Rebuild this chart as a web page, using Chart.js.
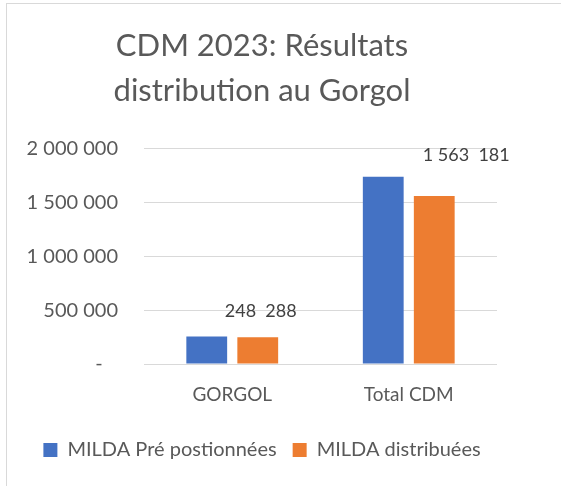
<!DOCTYPE html>
<html>
<head>
<meta charset="utf-8">
<script src="https://cdn.jsdelivr.net/npm/chart.js@4"></script>
<style>
    body { margin: 0; background: #fff; }
    #frame { position: absolute; left: 6px; top: 3px; width: 600px; height: 520px; border-left: 1px solid #d9d9d9; border-top: 1px solid #d9d9d9; }
    #box { position: absolute; left: 7px; top: 4px; width: 554px; height: 482px; }
</style>
</head>
<body>
<div id="frame"></div>
<div id="box"><canvas id="chart"></canvas></div>
<script>
// Données du graphique
const categories = ["GORGOL", "Total CDM"];
const milaPrePositionnees = [255000, 1740000];
const milaDistribuees = [248288, 1563181];
const yTicks = [0, 500000, 1000000, 1500000, 2000000];

const gris = "#595959";
const police = "Lato, 'Liberation Sans', sans-serif";

// formatage type Excel : 1 563 181
function formatNombre(v) {
    if (v === 0) return "-";
    return Math.round(v).toString().replace(/\B(?=(\d{3})+(?!\d))/g, " ");
}

// étiquettes de données sur la série orange
const etiquettes = {
    id: "etiquettes",
    afterDatasetsDraw(chart) {
        const ctx = chart.ctx;
        const meta = chart.getDatasetMeta(1);
        const decalages = [{ dx: 3, dy: -26 }, { dx: 32, dy: -41 }];
        ctx.save();
        ctx.font = "18px " + police;
        ctx.fillStyle = "#404040";
        ctx.textAlign = "center";
        ctx.textBaseline = "middle";
        meta.data.forEach(function (bar, i) {
            let txt = formatNombre(milaDistribuees[i]).replace(/ (\d{3})$/, "  $1");
            ctx.fillText(txt, bar.x + decalages[i].dx, bar.y + decalages[i].dy);
        });
        ctx.restore();
    }
};

new Chart(document.getElementById("chart"), {
    type: "bar",
    data: {
        labels: categories,
        datasets: [
            { label: "MILDA Pré postionnées", data: milaPrePositionnees, backgroundColor: "#4472C4" },
            { label: "MILDA distribuées", data: milaDistribuees, backgroundColor: "#ED7D31" }
        ]
    },
    options: {
        responsive: true,
        maintainAspectRatio: false,
        devicePixelRatio: 1,
        animation: false,
        categoryPercentage: 0.578,
        barPercentage: 0.8,
        layout: { padding: { left: 20, right: 64, top: 20, bottom: 16 } },
        plugins: {
            title: {
                display: true,
                text: ["CDM 2023: Résultats", "distribution au Gorgol"],
                color: gris,
                font: { family: police, size: 31, weight: "normal", lineHeight: 1.45 },
                padding: { top: 0, bottom: 35 }
            },
            legend: {
                position: "bottom",
                labels: {
                    color: gris,
                    font: { family: police, size: 20 },
                    boxWidth: 14,
                    boxHeight: 14,
                    padding: 16
                }
            },
            tooltip: { enabled: false }
        },
        scales: {
            x: {
                afterFit: function (scale) { scale.height = 60; },
                grid: { display: false },
                border: { display: false },
                ticks: { color: gris, font: { family: police, size: 19 }, padding: 11 }
            },
            y: {
                min: 0,
                max: 2000000,
                afterBuildTicks: function (scale) {
                    scale.ticks = yTicks.map(v => ({ value: v }));
                },
                afterFit: function (scale) { scale.width = 117; },
                grid: { color: "#D9D9D9", drawTicks: false },
                border: { display: false },
                ticks: {
                    color: gris,
                    font: { family: police, size: 20 },
                    padding: 26,
                    callback: function (v) { return v === 0 ? "-   " : formatNombre(v); }
                }
            }
        }
    },
    plugins: [etiquettes]
});
</script>
</body>
</html>
